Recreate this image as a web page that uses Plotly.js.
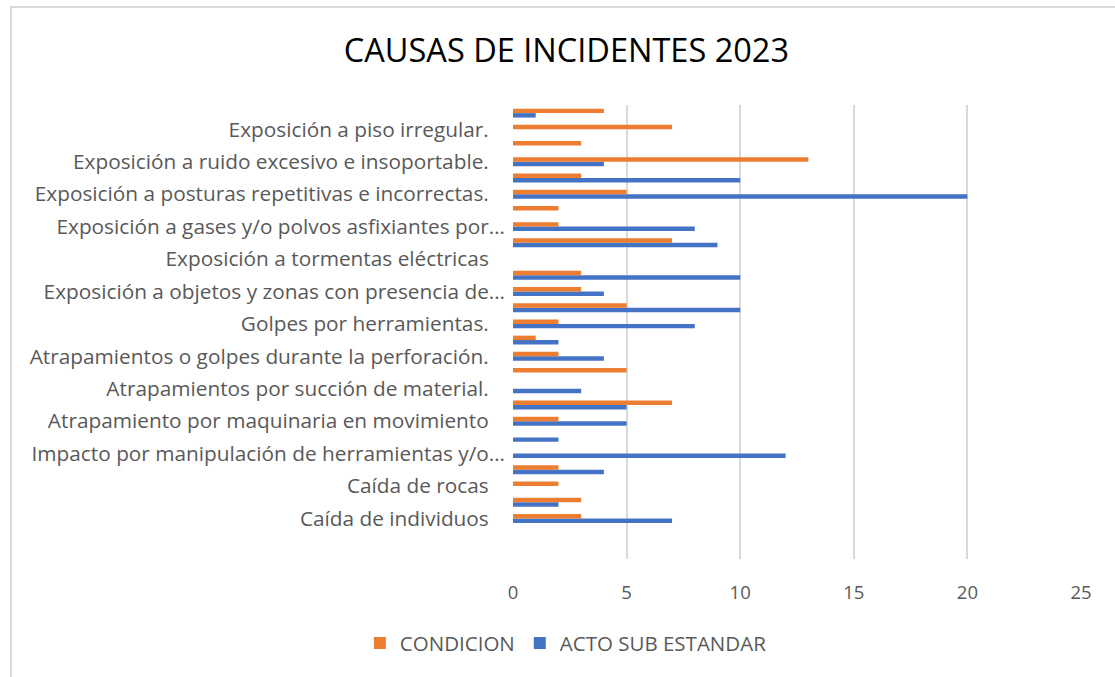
<!DOCTYPE html>
<html>
<head>
<meta charset="utf-8">
<script src="https://cdn.plot.ly/plotly-3.0.1.min.js"></script>
<style>
  html, body { margin: 0; padding: 0; background: #fff; }
  #wrap { position: relative; width: 1115px; height: 677px; overflow: hidden; }
  #chart { position: absolute; left: 0; top: 0; width: 1115px; height: 677px; }
  #frame { position: absolute; left: 10px; top: 6px; width: 1200px; height: 800px;
           border-left: 2px solid #d9d9d9; border-top: 2px solid #d9d9d9; pointer-events: none; }
</style>
</head>
<body>
<div id="wrap">
  <div id="chart"></div>
  <div id="frame"></div>
</div>
<script>
// Categories from bottom (index 0) to top (index 25); only every other category is labelled.
const labels = [
  "Caída de individuos",
  "Caída de rocas",
  "Impacto por manipulación de herramientas y/o…",
  "Atrapamiento por maquinaria en movimiento",
  "Atrapamientos por succión de material.",
  "Atrapamientos o golpes durante la perforación.",
  "Golpes por herramientas.",
  "Exposición a objetos y zonas con presencia de…",
  "Exposición a tormentas eléctricas",
  "Exposición a gases y/o polvos asfixiantes por…",
  "Exposición a posturas repetitivas e incorrectas.",
  "Exposición a ruido excesivo e insoportable.",
  "Exposición a piso irregular."
];
const condicion = [3,3,2,2,0,0,2,7,0,5,2,1,2,5,3,3,0,7,2,2,5,3,13,3,7,4];
const acto      = [7,2,0,4,12,2,5,5,3,0,4,2,8,10,4,10,0,9,8,0,20,10,4,0,0,1];
const seriesNames = ["CONDICION", "ACTO SUB ESTANDAR"];
const xTicks = [0, 5, 10, 15, 20, 25];

const idx = condicion.map((_, i) => i);
const tickvals = labels.map((_, i) => i * 2);
const ticktext = labels.map(t => t.endsWith("…") ? t : t + "\u00a0\u00a0\u00a0");

const FONT = "'Open Sans', 'Noto Sans', sans-serif";

const traces = [
  { type: "bar", orientation: "h", name: seriesNames[1], x: acto, y: idx,
    marker: { color: "#4472C4" }, hoverinfo: "x+name" },
  { type: "bar", orientation: "h", name: seriesNames[0], x: condicion, y: idx,
    marker: { color: "#ED7D31" }, hoverinfo: "x+name" }
];

const layout = {
  width: 1115, height: 677,
  margin: { l: 513, r: 34, t: 105, b: 118 },
  paper_bgcolor: "#ffffff", plot_bgcolor: "#ffffff",
  font: { family: FONT, color: "#595959", size: 18 },
  title: { text: "CAUSAS DE INCIDENTES 2023", x: 0.508, xref: "container", xanchor: "center",
           y: 0.925, yref: "container", yanchor: "middle",
           font: { family: FONT, size: 32.5, color: "#000000" } },
  barmode: "group", bargap: 0.45, bargroupgap: 0,
  xaxis: { range: [0, 25], tickvals: xTicks, ticks: "", showline: false, zeroline: false,
           showgrid: true, gridcolor: "#d9d9d9", gridwidth: 1.5, ticklabelstandoff: 20,
           tickfont: { family: FONT, size: 18.5, color: "#595959" }, fixedrange: true },
  yaxis: { range: [-2.5, 25.5], tickvals: tickvals, ticktext: ticktext, ticks: "",
           showgrid: false, zeroline: false, showline: false, ticklabelstandoff: 7,
           tickfont: { family: FONT, size: 20.8, color: "#595959" }, fixedrange: true },
  legend: { orientation: "h", x: 0.5075, xref: "container", xanchor: "center",
            y: 0.05, yref: "container", yanchor: "middle", traceorder: "reversed",
            font: { family: FONT, size: 20.5, color: "#595959" }, itemwidth: 30 },
  showlegend: true
};

Plotly.newPlot("chart", traces, layout, { displayModeBar: false });
</script>
</body>
</html>
